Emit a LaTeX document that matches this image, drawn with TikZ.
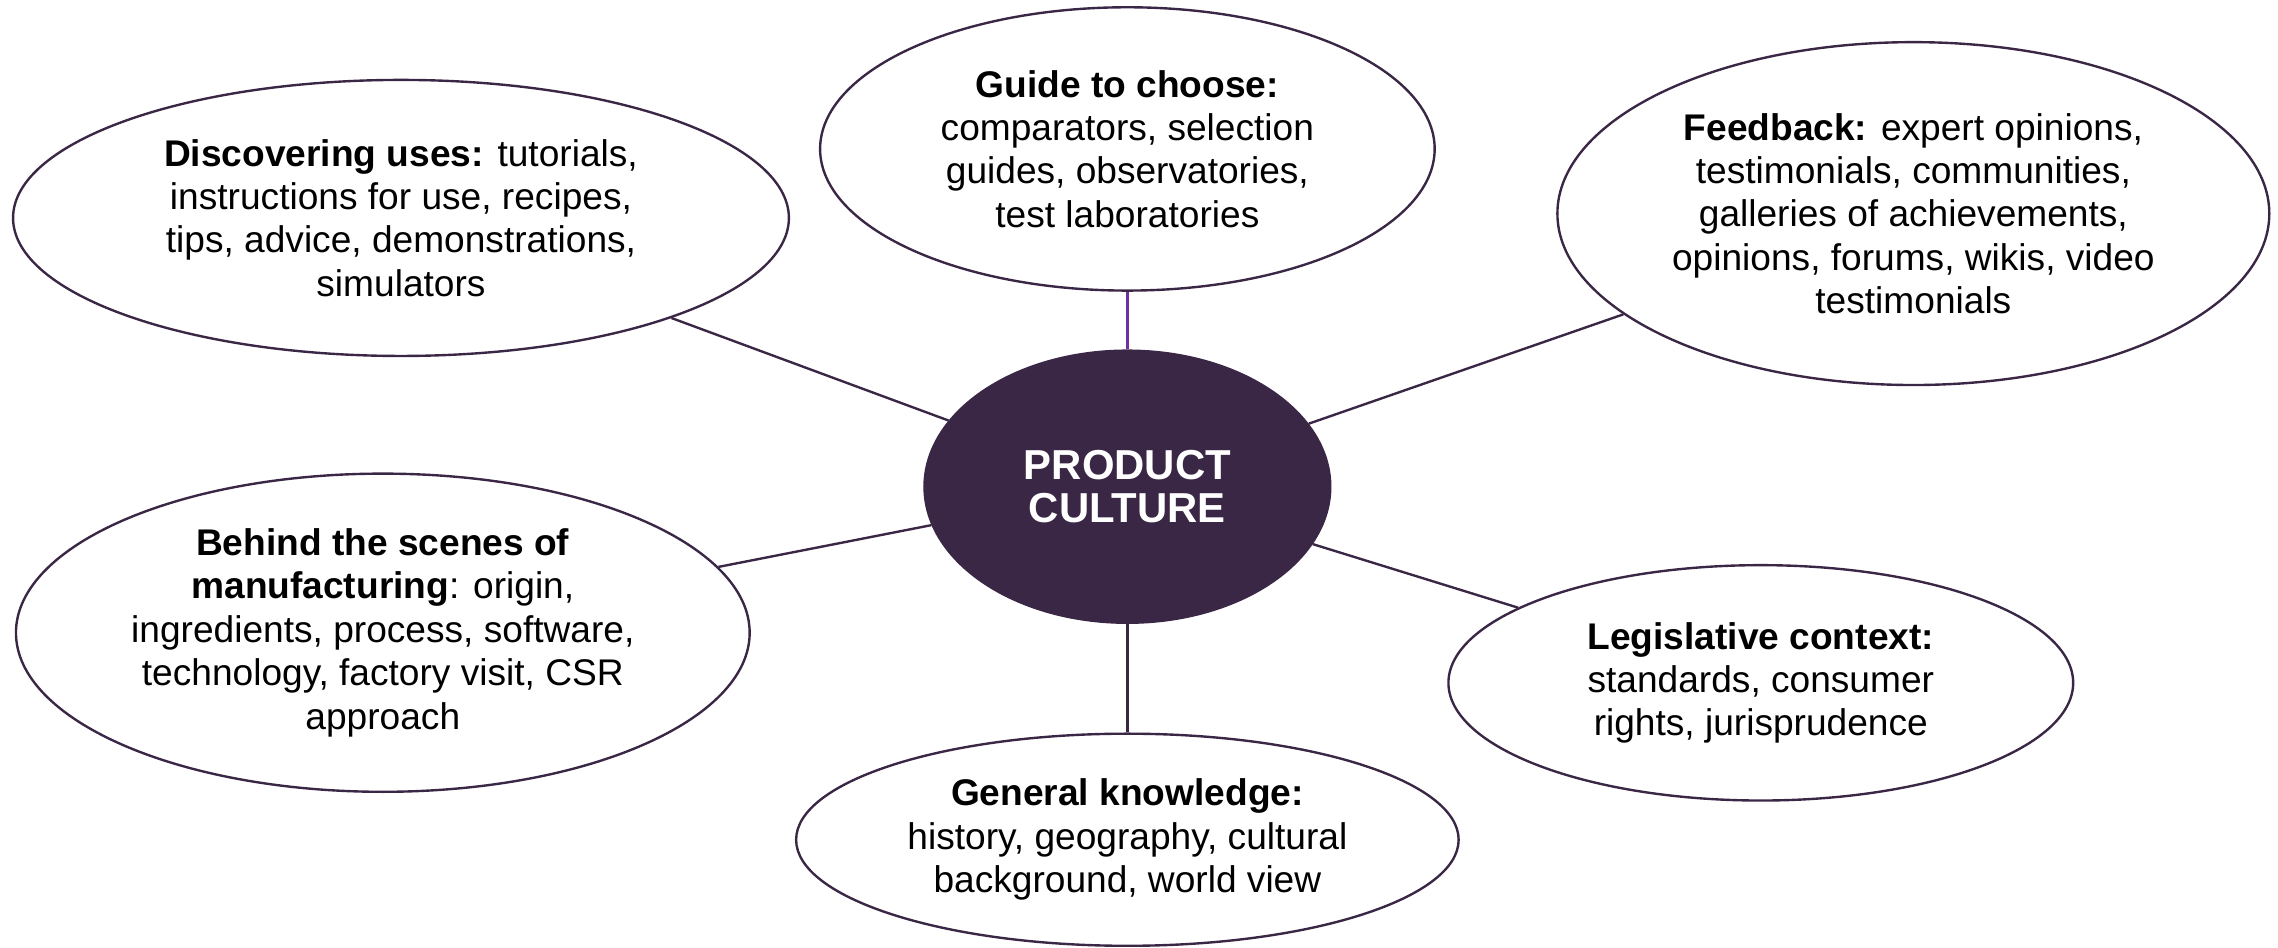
\documentclass[tikz,border=0pt]{standalone}
\usepackage{fontspec}
\setmainfont{Liberation Sans}
\usepackage{tikz}
\usetikzlibrary{shapes.geometric,positioning}
\usepackage{xcolor}

\definecolor{culturedark}{HTML}{3A2645}
\definecolor{culturelink}{HTML}{7030A0}

\tikzset{
  topic/.style={ellipse, draw=culturedark, line width=0.7pt, inner sep=0pt,
    align=center, font=\fontsize{10.9}{12.75}\selectfont},
  hub/.style={ellipse, fill=culturedark, draw=culturedark, inner sep=0pt,
    align=center, text=white, font=\fontsize{12.3}{12.6}\selectfont\bfseries},
  link/.style={draw=culturedark, line width=0.7pt}
}

\begin{document}
\begin{tikzpicture}[x=0.015cm, y=-0.015cm]
        \useasboundingbox (0,0) rectangle (1568,652);

        % Topics
        \node[topic, minimum width=8.01cm, minimum height=2.85cm] (uses) at (276,150)
            {\textbf{Discovering uses:} tutorials,\\ instructions for use, recipes,\\ tips, advice, demonstrations,\\ simulators};
        \node[topic, minimum width=6.345cm, minimum height=2.925cm] (guide) at (776,102.5)
            {\textbf{Guide to choose:}\\ comparators, selection\\ guides, observatories,\\ test laboratories};
        \node[topic, minimum width=7.35cm, minimum height=3.54cm] (feedback) at (1317,147)
            {\textbf{Feedback:} expert opinions,\\ testimonials, communities,\\ galleries of achievements,\\ opinions, forums, wikis, video\\ testimonials};
        \node[topic, minimum width=7.575cm, minimum height=3.285cm] (scenes) at (263.5,435.5)
            {\textbf{Behind the scenes of}\\ \textbf{manufacturing}: origin,\\ ingredients, process, software,\\ technology, factory visit, CSR\\ approach};
        \node[topic, minimum width=6.45cm, minimum height=2.43cm] (law) at (1212,470)
            {\textbf{Legislative context:}\\ standards, consumer\\ rights, jurisprudence};
        \node[topic, minimum width=6.84cm, minimum height=2.19cm] (general) at (776,578)
            {\textbf{General knowledge:}\\ history, geography, cultural\\ background, world view};

        % Hub
        \node[hub, minimum width=4.2cm, minimum height=2.82cm] (culture) at (776,335)
            {PRODUCT\\ CULTURE};

        % Links
        \draw[link] (culture) -- (uses);
        \draw[draw=culturelink, line width=0.7pt] (culture) -- (guide);
        \draw[link] (culture) -- (feedback);
        \draw[link] (culture) -- (scenes);
        \draw[link] (culture) -- (law);
        \draw[link] (culture) -- (general);
    \end{tikzpicture}
\end{document}
